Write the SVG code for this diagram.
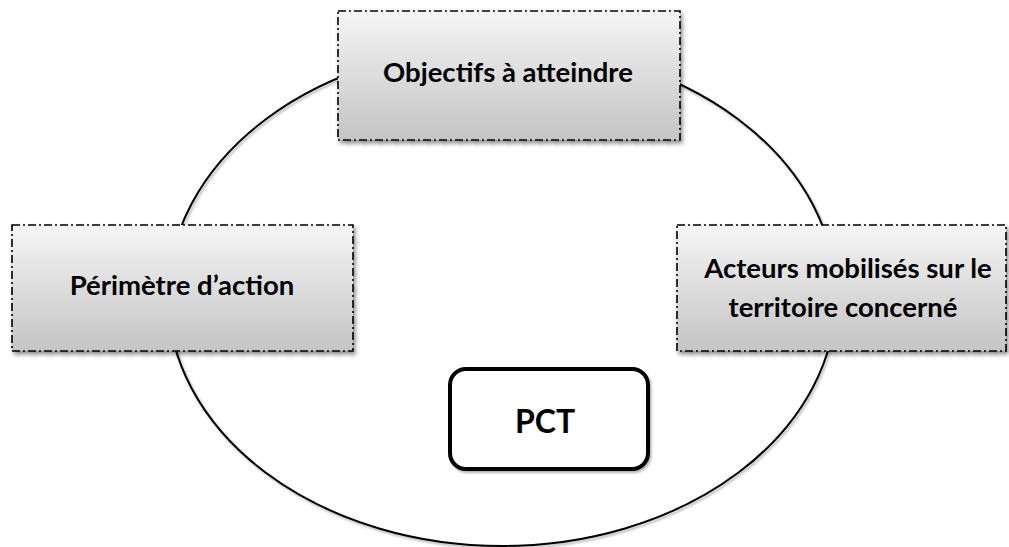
<svg xmlns="http://www.w3.org/2000/svg" width="1009" height="547" viewBox="0 0 1009 547">
  <defs>
    <linearGradient id="boxGrad" x1="0" y1="0" x2="0" y2="1">
      <stop offset="0" stop-color="#f5f5f5"/>
      <stop offset="1" stop-color="#c4c4c4"/>
    </linearGradient>
    <filter id="shadow" x="-10%" y="-10%" width="125%" height="130%">
      <feDropShadow dx="2" dy="3" stdDeviation="2" flood-color="#000" flood-opacity="0.45"/>
    </filter>
    <filter id="lineShadow" x="-5%" y="-5%" width="110%" height="112%">
      <feDropShadow dx="1.5" dy="2" stdDeviation="1.2" flood-color="#000" flood-opacity="0.3"/>
    </filter>
  </defs>
  <style>
    .box { fill: url(#boxGrad); stroke: #000; stroke-width: 1.6; stroke-dasharray: 8 3 2 3; filter: url(#shadow); }
    .lbl { font-family: Lato, "Liberation Sans", sans-serif; font-weight: bold; font-size: 27.5px; fill: #000; text-anchor: middle; }
    .pct { fill: #fff; stroke: #000; stroke-width: 4; filter: url(#lineShadow); }
    .pctlbl { font-family: Lato, "Liberation Sans", sans-serif; font-weight: bold; font-size: 32px; fill: #000; text-anchor: middle; }
  </style>
  <rect width="1009" height="547" fill="#fff"/>
  <g id="connectors">
    <ellipse cx="502" cy="296" rx="334" ry="250" fill="none" stroke="#000" stroke-width="2" filter="url(#lineShadow)"/>
  </g>
  <g id="node-pct">
    <rect class="pct" x="450" y="369" width="198" height="100" rx="16" ry="16"/>
    <text class="pctlbl" x="545" y="433">PCT</text>
  </g>
  <g id="node-objectifs">
    <rect class="box" x="338" y="11" width="342" height="129"/>
    <text class="lbl" x="508" y="82">Objectifs à atteindre</text>
  </g>
  <g id="node-perimetre">
    <rect class="box" x="12" y="225" width="341" height="126"/>
    <text class="lbl" x="182" y="295">Périmètre d’action</text>
  </g>
  <g id="node-acteurs">
    <rect class="box" x="677" y="225" width="329" height="126"/>
    <text class="lbl" x="848" y="278">Acteurs mobilisés sur le</text>
    <text class="lbl" x="843" y="317">territoire concerné</text>
  </g>
</svg>
